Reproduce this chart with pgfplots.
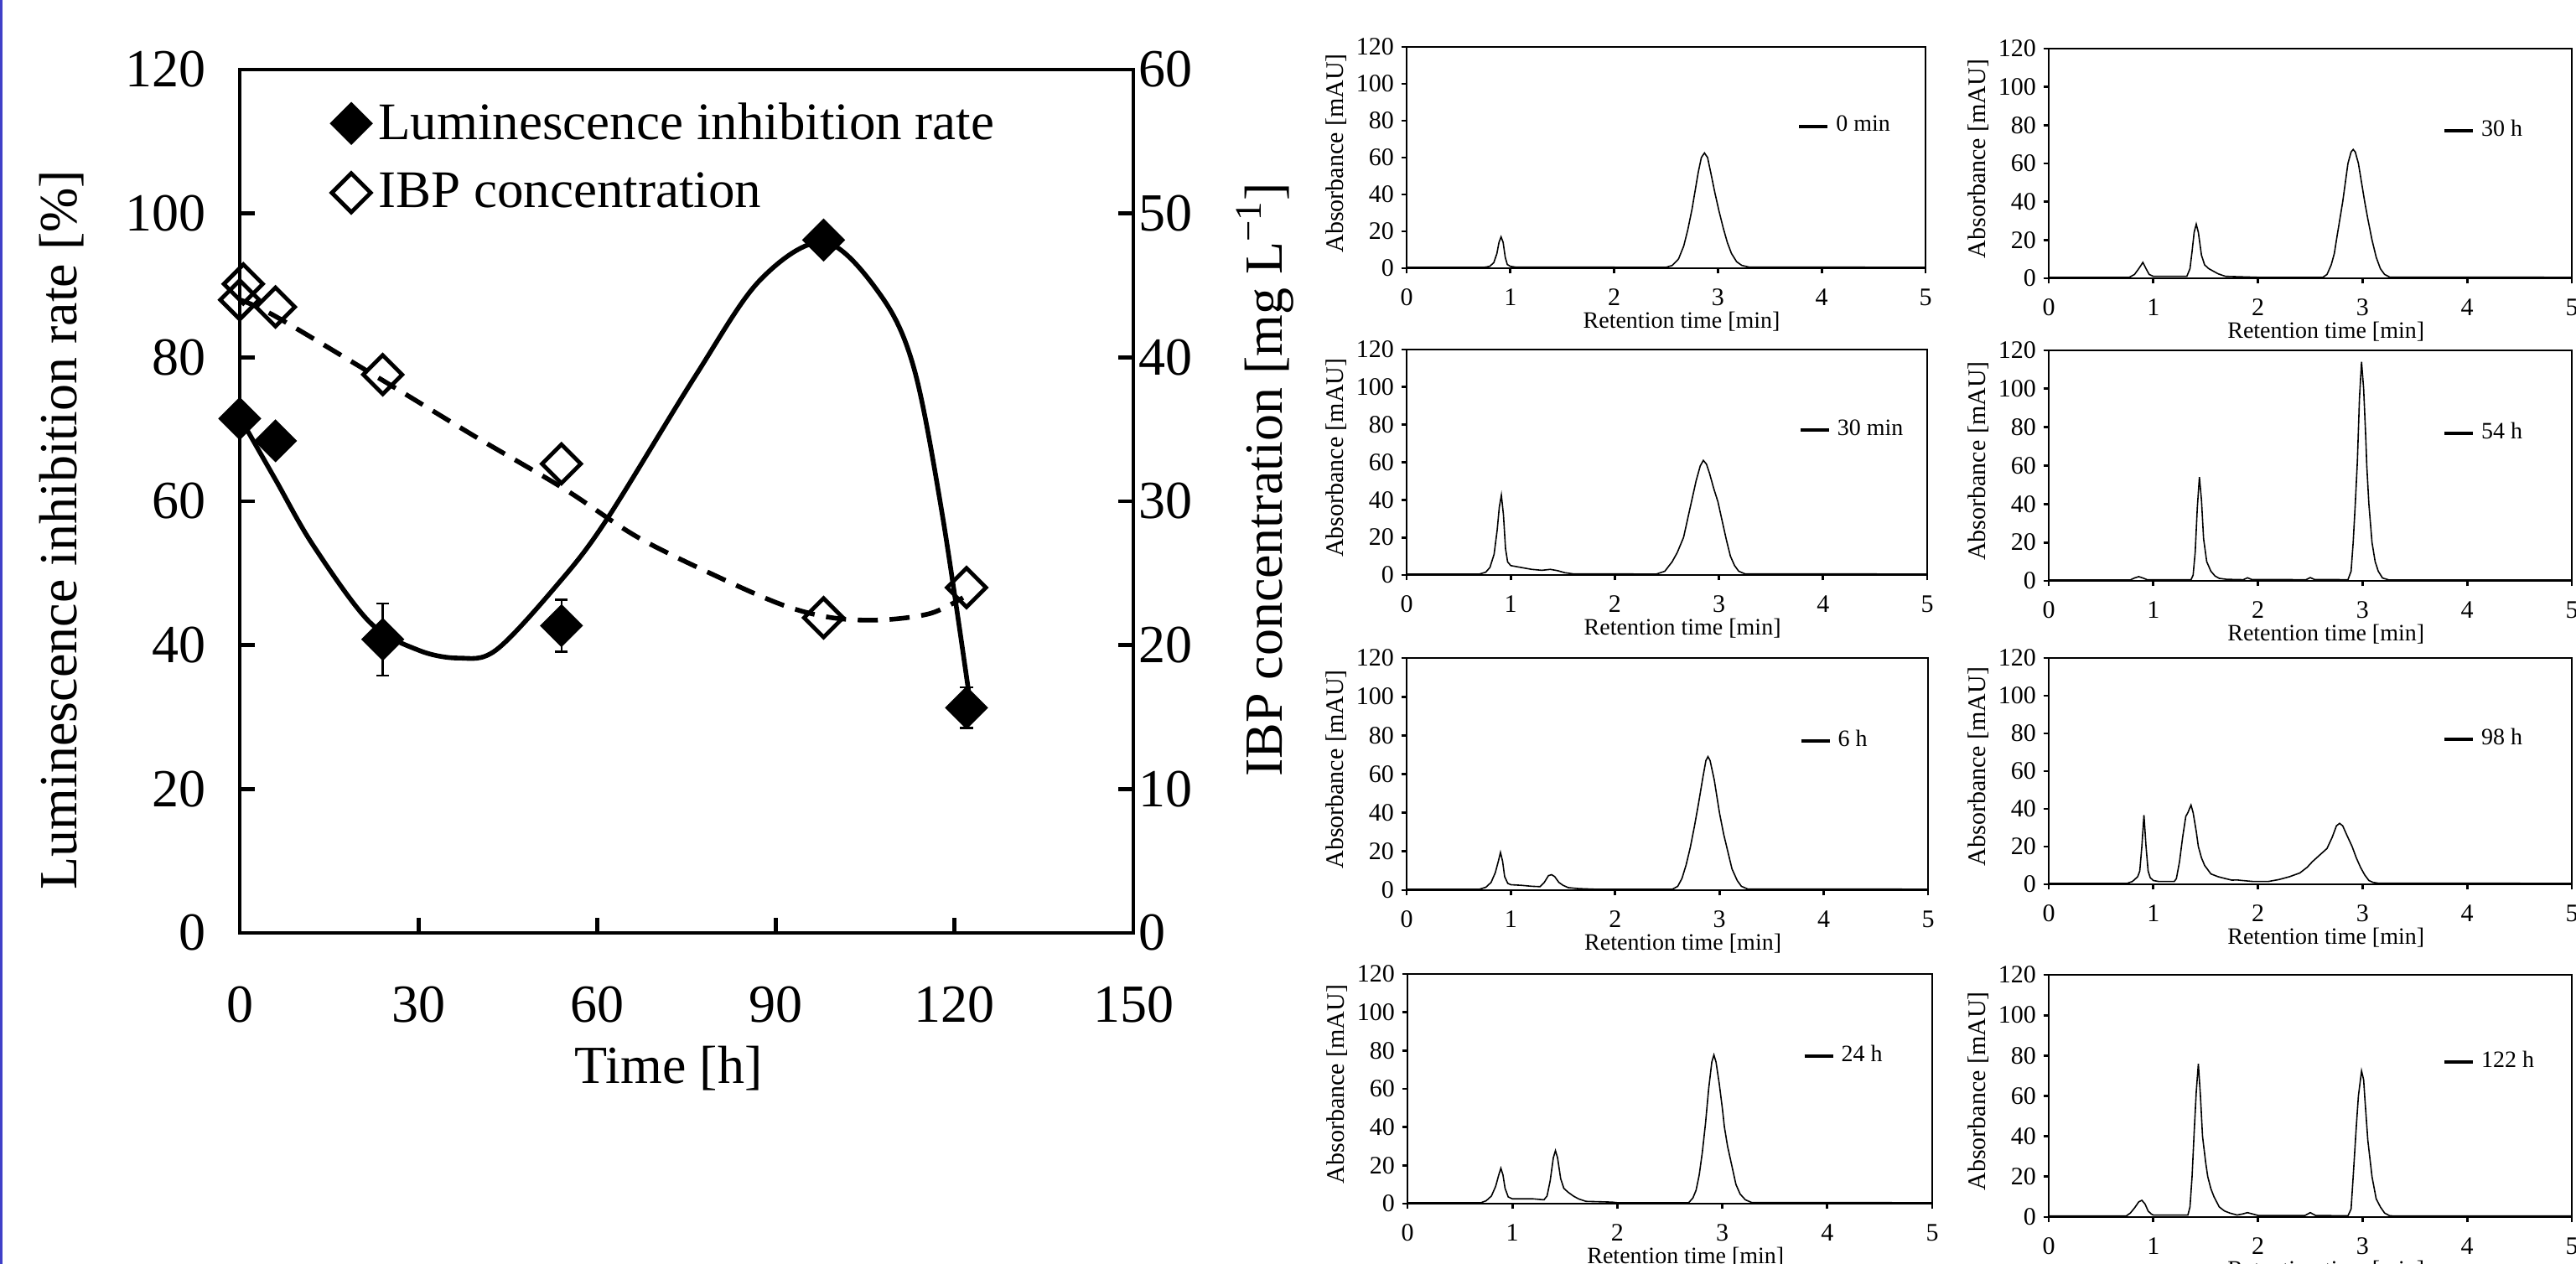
\documentclass[border=0pt]{standalone}
\usepackage{fontspec}
\setmainfont{Liberation Serif}
\usepackage{pgfplots}
\pgfplotsset{compat=1.18}
\definecolor{frameblue}{RGB}{64,64,200}

\pgfplotsset{
  chrom/.style={
    scale only axis, anchor=south west,
    xmin=0, xmax=5, ymin=0, ymax=120,
    xtick={0,1,2,3,4,5}, ytick={0,20,40,60,80,100,120},
    xtick pos=bottom, ytick pos=left,
    tick align=outside, major tick length=1.6pt,
    axis line style={line width=0.7pt},
    tick style={black, line width=0.7pt},
    tick label style={font=\fontsize{7.5}{8}\selectfont},
    xticklabel style={inner sep=0.5pt, yshift=-3.9pt},
    yticklabel style={inner sep=0.5pt, xshift=-1.5pt},
    /pgf/number format/assume math mode=true,
    xlabel={Retention time [min]},
    ylabel={Absorbance [mAU]},
    every axis x label/.style={at={(axis description cs:0.53,0)}, yshift=-16pt, anchor=center, inner sep=0.5pt, font=\fontsize{7}{8}\selectfont},
    every axis y label/.style={at={(axis description cs:0,0.52)}, xshift=-21pt, rotate=90, anchor=center, inner sep=0.5pt, font=\fontsize{7.5}{8}\selectfont},
    legend style={draw=none, fill=none, at={(axis cs:3.76,77)}, anchor=west, font=\fontsize{7}{8}\selectfont, inner sep=0pt},
    legend image code/.code={\draw[#1, line width=1pt] (0pt,0pt) -- (8.5pt,0pt);},
    cycle list={{black, line width=0.75pt, no markers, smooth, tension=0.35, line join=round}},
  }
}

\begin{document}
\begin{tikzpicture}
\useasboundingbox (0,0) rectangle (768.25pt,377pt);
\clip (0,0) rectangle (768.25pt,377pt);
\draw[frameblue, line width=0.8pt] (0.4pt,0pt) -- (0.4pt,377pt);

% ---------------- main chart, left axis ----------------
\begin{axis}[
  at={(71.5pt,98.75pt)}, anchor=south west, scale only axis,
  width=266.5pt, height=257.5pt,
  xmin=0, xmax=150, ymin=0, ymax=120,
  xtick={0,30,60,90,120,150}, ytick={0,20,40,60,80,100,120},
  xtick pos=bottom, ytick pos=left,
  tick align=inside, major tick length=4.5pt,
  axis line style={line width=1.2pt},
  tick style={black, line width=1.2pt},
  font=\fontsize{16}{19}\selectfont,
  /pgf/number format/assume math mode=true,
  xticklabel style={yshift=-12.5pt},
  yticklabel style={xshift=-6.5pt},
  clip=false,
  xlabel={Time [h]}, ylabel={Luminescence inhibition rate [\%]},
  every axis x label/.style={at={(axis description cs:0.48,0)}, yshift=-40.5pt, anchor=center},
  every axis y label/.style={at={(axis description cs:0,0.467)}, xshift=-53pt, rotate=90, anchor=center},
  legend style={draw=none, fill=none, at={(axis description cs:0.09,0.978)}, anchor=north west,
    row sep=4.5pt, font=\fontsize{15.75}{18}\selectfont},
  legend cell align=left,
  legend image code/.code={\draw[mark repeat=2,mark phase=2,#1] plot coordinates {(0pt,0pt) (5pt,0pt) (10pt,0pt)};},
]
\addplot[black, line width=1.4pt, smooth, tension=0.55, forget plot] coordinates {
 (0,71.7) (6,63) (12.3,53.9) (21.8,43.2) (30,39.3) (36.8,38.2) (43,39.3)
 (53.2,48.3) (61.4,57.2) (76.4,77.3) (87.3,90.7) (98.2,96) (107.7,88.5)
 (113.2,78.4) (117.9,58.3) (122.7,31.5)};
\addplot[only marks, mark=square*, mark size=4.3pt,
  mark options={rotate=45, black, fill=black, line width=0.5pt},
  error bars/.cd, y dir=both, y explicit,
  error bar style={line width=0.6pt, black},
  error mark options={rotate=90, mark size=1.9pt, line width=0.6pt, black}]
  coordinates {(0,71.5) (6,68.4) (24,40.8) +- (0,5) (54,42.7) +- (0,3.6) (98,96.3) (122,31.3) +- (0,2.8)};
\addlegendentry{Luminescence inhibition rate}
\addlegendimage{only marks, mark=square, mark size=4.1pt, mark options={rotate=45, black, fill=white, line width=1.2pt}}
\addlegendentry{IBP concentration}
\end{axis}

% ---------------- main chart, right axis ----------------
\begin{axis}[
  at={(71.5pt,98.75pt)}, anchor=south west, scale only axis,
  width=266.5pt, height=257.5pt,
  xmin=0, xmax=150, ymin=0, ymax=60,
  hide x axis, axis y line*=right,
  ytick={0,10,20,30,40,50,60},
  tick align=inside, major tick length=4.5pt,
  axis line style={line width=1.2pt},
  tick style={black, line width=1.2pt},
  font=\fontsize{16}{19}\selectfont,
  /pgf/number format/assume math mode=true,
  yticklabel style={xshift=-1.8pt},
  clip=false,
  ylabel={IBP concentration [mg L\textsuperscript{−1}]},
  every axis y label/.style={at={(axis description cs:1,0.525)}, xshift=39.25pt, rotate=90, anchor=center},
]
\addplot[black, line width=1.4pt, dash pattern=on 6pt off 3.5pt, smooth, tension=0.55] coordinates {
 (0,44) (6,42.85) (24,38.4) (39.5,34.5) (54.5,30.85) (66.8,27.5) (80.5,24.7)
 (91.4,22.75) (99.5,21.9) (107.7,21.75) (115.9,22.2) (121.4,23.3)};
\addplot[only marks, mark=square, mark size=4.1pt,
  mark options={rotate=45, black, fill=white, line width=1.2pt}]
  coordinates {(0,44) (0.6,45.1) (6,43.5) (24,38.8) (54,32.6) (98,21.9) (122,24.0)};
\end{axis}

% ---------------- chromatograms, left column ----------------
\begin{axis}[chrom, at={(419.5pt,297pt)}, width=154.75pt, height=66pt]
\addplot coordinates {(0,0.5) (0.75,0.5) (0.80,1) (0.84,3) (0.87,8) (0.89,14) (0.91,17) (0.93,14) (0.95,6) (0.97,2) (1.0,1) (1.05,0.6) (2.5,0.5) (2.56,1.5) (2.62,5) (2.67,12) (2.71,21) (2.75,32) (2.78,42) (2.81,52) (2.84,60) (2.87,62.5) (2.90,60) (2.93,52) (2.97,41) (3.01,31) (3.05,22) (3.09,14) (3.13,8) (3.18,3.5) (3.23,1.5) (3.3,0.6) (5,0.5)};
\addlegendentry{0 min}
\end{axis}

\begin{axis}[chrom, at={(419.5pt,205.5pt)}, width=155.25pt, height=67.25pt]
\addplot coordinates {(0,0.5) (0.70,0.5) (0.76,1.5) (0.80,4) (0.84,11) (0.87,24) (0.89,36) (0.91,42.5) (0.93,32) (0.95,14) (0.97,7) (1.0,5) (1.1,4) (1.2,3) (1.3,2.5) (1.38,3) (1.45,2.3) (1.52,1.2) (1.6,0.6) (2.4,0.5) (2.48,2) (2.55,7) (2.6,12) (2.66,20) (2.70,30) (2.74,40) (2.78,50) (2.82,58) (2.85,61) (2.88,59) (2.91,54) (2.95,46) (2.99,39) (3.03,29) (3.07,19) (3.11,10) (3.15,5) (3.19,2) (3.25,0.6) (5,0.5)};
\addlegendentry{30 min}
\end{axis}

\begin{axis}[chrom, at={(419.5pt,111.5pt)}, width=155.5pt, height=69.25pt]
\addplot coordinates {(0,0.5) (0.70,0.5) (0.76,1.5) (0.81,4) (0.85,9) (0.88,15) (0.90,19.5) (0.92,15) (0.94,7) (0.97,3.5) (1.0,2.8) (1.1,2.5) (1.2,2) (1.28,1.8) (1.32,4) (1.36,7.5) (1.39,8) (1.42,7) (1.46,4) (1.5,2.5) (1.55,1.3) (1.65,0.8) (1.8,0.5) (2.55,0.5) (2.60,2) (2.64,6) (2.68,13) (2.72,22) (2.76,33) (2.80,45) (2.84,58) (2.87,67) (2.89,69) (2.91,67) (2.95,57) (3.0,40) (3.04,29) (3.08,20) (3.12,11) (3.17,5) (3.21,2) (3.27,0.6) (5,0.5)};
\addlegendentry{6 h}
\end{axis}

\begin{axis}[chrom, at={(419.75pt,18pt)}, width=156.5pt, height=68.5pt]
\addplot coordinates {(0,0.5) (0.70,0.5) (0.75,1.5) (0.80,4) (0.84,9) (0.87,15) (0.89,18.5) (0.91,15) (0.93,8) (0.96,3.5) (1.0,2.5) (1.2,2.5) (1.3,2) (1.33,4) (1.36,12) (1.39,24) (1.41,27.7) (1.43,24) (1.46,13) (1.49,8) (1.53,6) (1.58,4) (1.63,2.5) (1.7,1.2) (1.95,0.8) (2.0,0.5) (2.68,0.5) (2.72,3) (2.75,7) (2.78,15) (2.81,27) (2.84,42) (2.87,60) (2.90,74) (2.92,77.7) (2.94,74) (2.97,63) (3.0,50) (3.02,40) (3.05,30) (3.09,20) (3.13,10) (3.17,5) (3.22,2) (3.28,0.6) (5,0.5)};
\addlegendentry{24 h}
\end{axis}

% ---------------- chromatograms, right column ----------------
\begin{axis}[chrom, at={(611pt,294pt)}, width=156pt, height=68.5pt]
\addplot coordinates {(0,0.5) (0.77,0.5) (0.82,2) (0.86,5) (0.90,8.3) (0.93,5) (0.96,2) (1.0,1) (1.32,1) (1.35,5) (1.37,14) (1.39,24) (1.41,28.3) (1.43,24) (1.46,12) (1.49,7) (1.53,5) (1.58,3.5) (1.62,2.3) (1.69,1) (2.0,0.5) (2.62,0.5) (2.66,2) (2.70,7) (2.73,13) (2.75,20) (2.78,30) (2.81,40) (2.84,52) (2.86,60) (2.89,66) (2.91,67.3) (2.93,66) (2.96,60) (2.99,50) (3.02,40) (3.05,31) (3.09,20) (3.13,11) (3.17,5) (3.21,2) (3.26,0.6) (5,0.5)};
\addlegendentry{30 h}
\end{axis}

\begin{axis}[chrom, at={(611pt,203.75pt)}, width=156pt, height=68.75pt]
\addplot coordinates {(0,0.5) (0.78,0.5) (0.82,1.5) (0.86,2.2) (0.90,1.5) (0.94,0.6) (1.36,0.6) (1.38,3) (1.40,15) (1.42,38) (1.44,54) (1.46,42) (1.48,22) (1.51,10) (1.55,5) (1.59,2.5) (1.63,1.3) (1.7,0.8) (1.86,0.6) (1.9,1.6) (1.94,0.7) (2.46,0.6) (2.5,1.7) (2.54,0.7) (2.86,0.6) (2.89,5) (2.91,20) (2.93,40) (2.95,62) (2.97,95) (2.99,114) (3.01,100) (3.03,75) (3.04,60) (3.06,40) (3.09,20) (3.12,10) (3.15,5) (3.19,1.5) (3.25,0.5) (5,0.5)};
\addlegendentry{54 h}
\end{axis}

\begin{axis}[chrom, at={(611pt,113.25pt)}, width=156pt, height=67.5pt]
\addplot coordinates {(0,0.5) (0.75,0.5) (0.80,1.5) (0.85,4) (0.87,7) (0.89,20) (0.91,36.7) (0.93,20) (0.95,7) (0.97,3.5) (1.0,2) (1.05,1.5) (1.2,1.5) (1.22,3) (1.25,12) (1.28,25) (1.31,36) (1.33,38) (1.36,42) (1.38,38) (1.41,28) (1.43,20) (1.46,14) (1.49,10) (1.55,5.5) (1.62,4) (1.69,3) (1.75,2.2) (1.8,2.3) (1.85,2) (1.95,1.5) (2.1,1.5) (2.2,2.5) (2.3,4) (2.4,6) (2.47,9) (2.52,12) (2.6,16) (2.66,19) (2.71,25) (2.75,31) (2.78,32.3) (2.81,31) (2.85,26) (2.9,20) (2.94,14) (2.98,9) (3.02,5) (3.06,2) (3.1,1) (3.15,0.6) (5,0.5)};
\addlegendentry{98 h}
\end{axis}

\begin{axis}[chrom, at={(611pt,14pt)}, width=156pt, height=72.25pt]
\addplot coordinates {(0,0.5) (0.74,0.5) (0.78,2) (0.82,4.5) (0.86,7.5) (0.89,8.3) (0.92,6.5) (0.95,3) (0.98,1.5) (1.0,1) (1.33,1) (1.35,5) (1.37,20) (1.39,42) (1.41,62) (1.43,75.9) (1.45,60) (1.47,40) (1.50,27) (1.52,20) (1.55,14) (1.58,10) (1.63,5) (1.68,3) (1.73,2) (1.8,1) (1.85,1.5) (1.9,2.2) (1.95,1.5) (2.0,0.8) (2.45,0.8) (2.5,2.2) (2.55,0.8) (2.86,0.6) (2.89,4) (2.91,20) (2.94,45) (2.96,60) (2.99,72.4) (3.01,68) (3.02,60) (3.05,38) (3.09,20) (3.13,9) (3.17,5) (3.21,2) (3.26,0.6) (5,0.5)};
\addlegendentry{122 h}
\end{axis}
\end{tikzpicture}
\end{document}
